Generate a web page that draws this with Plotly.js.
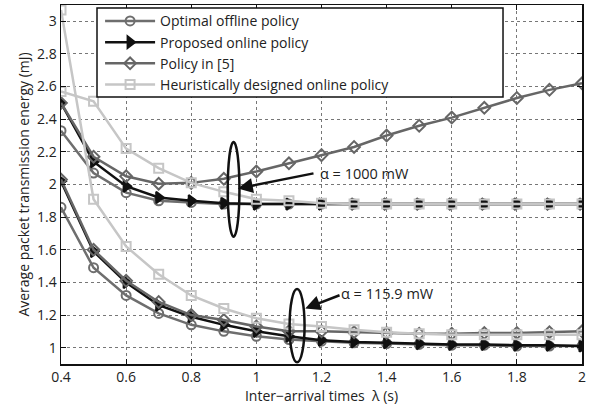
<!DOCTYPE html>
<html><head><meta charset="utf-8">
<script src="https://cdn.plot.ly/plotly-3.0.1.min.js"></script>
<style>html,body{margin:0;padding:0;background:#fff}#c{width:603px;height:410px}</style>
</head><body><div id="c"></div>
<script>
const lambda = [0.4,0.5,0.6,0.7,0.8,0.9,1.0,1.1,1.2,1.3,1.4,1.5,1.6,1.7,1.8,1.9,2.0];
// alpha = 1000 mW
const optHigh  = [2.33,2.07,1.95,1.90,1.89,1.88,1.88,1.88,1.88,1.88,1.88,1.88,1.88,1.88,1.88,1.88,1.88];
const propHigh = [2.50,2.14,1.99,1.92,1.90,1.885,1.88,1.88,1.88,1.88,1.88,1.88,1.88,1.88,1.88,1.88,1.88];
const refHigh  = [2.50,2.17,2.05,2.005,2.01,2.035,2.08,2.13,2.18,2.23,2.30,2.36,2.41,2.47,2.53,2.58,2.62];
const heurHigh = [2.57,2.51,2.22,2.10,2.01,1.955,1.91,1.90,1.885,1.88,1.88,1.88,1.88,1.88,1.88,1.88,1.88];
// alpha = 115.9 mW
const optLow   = [1.86,1.49,1.32,1.21,1.14,1.10,1.07,1.05,1.04,1.03,1.025,1.02,1.015,1.015,1.01,1.01,1.01];
const propLow  = [2.02,1.59,1.40,1.26,1.19,1.14,1.10,1.07,1.045,1.035,1.03,1.025,1.02,1.02,1.015,1.015,1.01];
const refLow   = [2.03,1.60,1.41,1.28,1.20,1.17,1.13,1.10,1.10,1.095,1.09,1.085,1.085,1.09,1.09,1.095,1.10];
const heurLow  = [3.07,1.91,1.62,1.45,1.32,1.24,1.18,1.145,1.13,1.11,1.095,1.085,1.08,1.08,1.08,1.08,1.08];

const names = ['Optimal offline policy','Proposed online policy','Policy in [5]','Heuristically designed online policy'];
const colors = ['#6e6e6e','#111111','#666666','#c6c6c6'];
const symbols = ['circle-open','triangle-right','diamond-open','square-open'];
const sizes = [9,10,9,9];
const high = [optHigh, propHigh, refHigh, heurHigh];
const low = [optLow, propLow, refLow, heurLow];

const traces = [];
for (let i = 0; i < 4; i++) {
  [high[i], low[i]].forEach((ys, k) => {
    traces.push({
      x: lambda, y: ys, type: 'scatter', mode: 'lines+markers',
      name: names[i], legendgroup: 'g' + i, showlegend: k === 0,
      line: {color: colors[i], width: 2.5},
      marker: {symbol: symbols[i], size: sizes[i], color: colors[i], line: {color: colors[i], width: 2}}
    });
  });
}

const font = {family: '"Open Sans", "Noto Sans", sans-serif', size: 14, color: '#222'};
const axisCommon = {
  showline: true, mirror: 'ticks', linecolor: '#111', linewidth: 1.5,
  ticks: 'inside', ticklen: 5, tickcolor: '#111',
  showgrid: true, gridcolor: '#777', griddash: 'dot', gridwidth: 1,
  zeroline: false, tickfont: font
};

const layout = {
  width: 603, height: 410,
  margin: {l: 61, r: 21, t: 5, b: 46},
  paper_bgcolor: '#fff', plot_bgcolor: '#fff',
  font: font,
  xaxis: Object.assign({}, axisCommon, {
    range: [0.4, 2.0], tickvals: [0.4,0.6,0.8,1.0,1.2,1.4,1.6,1.8,2.0],
    ticktext: ['0.4','0.6','0.8','1','1.2','1.4','1.6','1.8','2'],
    title: {text: 'Inter\u2212arrival times  \u03bb (s)', font: font, standoff: 6}
  }),
  yaxis: Object.assign({}, axisCommon, {
    range: [0.9, 3.1], tickvals: [1,1.2,1.4,1.6,1.8,2,2.2,2.4,2.6,2.8,3],
    ticktext: ['1','1.2','1.4','1.6','1.8','2','2.2','2.4','2.6','2.8','3'],
    title: {text: 'Average packet transmission energy (mJ)', font: font, standoff: 4}
  }),
  legend: {
    x: 0.075, y: 0.999, xanchor: 'left', yanchor: 'top',
    bgcolor: 'rgba(0,0,0,0)', borderwidth: 0,
    font: {family: font.family, size: 14, color: '#222'},
    itemwidth: 50, tracegroupgap: 0
  },
  shapes: [
    {type: 'rect', xref: 'paper', yref: 'paper', x0: 0.0691, x1: 0.8484, y0: 0.7437, y1: 0.9916,
     layer: 'above', fillcolor: '#fff', line: {color: '#111', width: 1.5}},
    {type: 'circle', xref: 'x', yref: 'y', x0: 0.912, x1: 0.948, y0: 1.68, y1: 2.26,
     line: {color: '#111', width: 2.5}},
    {type: 'circle', xref: 'x', yref: 'y', x0: 1.102, x1: 1.148, y0: 0.91, y1: 1.36,
     line: {color: '#111', width: 2.5}}
  ],
  annotations: [
    {x: 0.943, y: 1.975, xref: 'x', yref: 'y', ax: 1.18, ay: 2.07, axref: 'x', ayref: 'y',
     text: '', showarrow: true, arrowhead: 2, arrowsize: 1.2, arrowwidth: 2.5, arrowcolor: '#111'},
    {x: 1.19, y: 2.07, xref: 'x', yref: 'y', text: '\u03b1 = 1000 mW', showarrow: false,
     xanchor: 'left', yanchor: 'middle', font: {family: font.family, size: 14.5, color: '#222'}},
    {x: 1.15, y: 1.24, xref: 'x', yref: 'y', ax: 1.26, ay: 1.325, axref: 'x', ayref: 'y',
     text: '', showarrow: true, arrowhead: 2, arrowsize: 1.2, arrowwidth: 2.5, arrowcolor: '#111'},
    {x: 1.255, y: 1.33, xref: 'x', yref: 'y', text: '\u03b1 = 115.9 mW', showarrow: false,
     xanchor: 'left', yanchor: 'middle', font: {family: font.family, size: 14.5, color: '#222'}}
  ]
};

Plotly.newPlot('c', traces, layout, {staticPlot: true, displayModeBar: false});
</script></body></html>
